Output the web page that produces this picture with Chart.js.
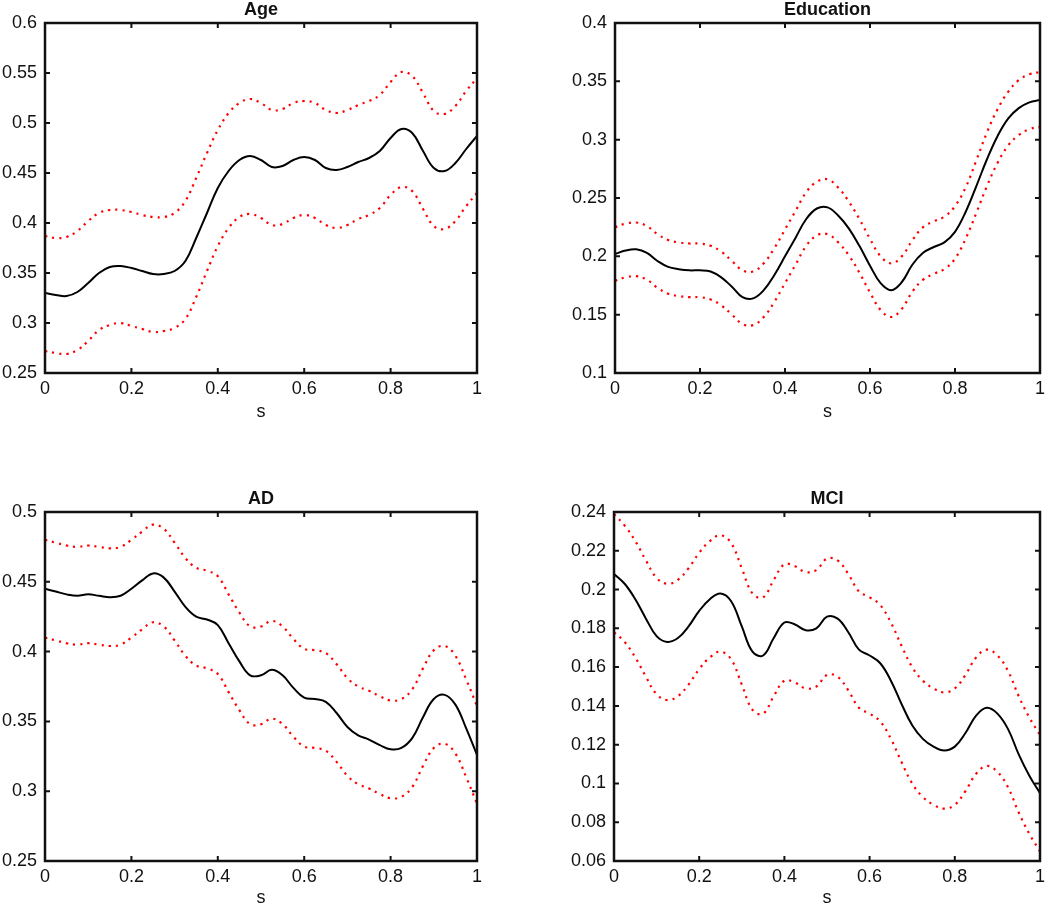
<!DOCTYPE html>
<html>
<head>
<meta charset="utf-8">
<script src="https://cdn.jsdelivr.net/npm/chart.js@4"></script>
<style>
  html, body { margin: 0; padding: 0; background: #fff; }
  body { width: 1050px; height: 904px; position: relative; overflow: hidden; }
  canvas { position: absolute; }
</style>
</head>
<body>
<canvas id="c1"></canvas>
<canvas id="c2"></canvas>
<canvas id="c3"></canvas>
<canvas id="c4"></canvas>
<script>
// ---- data ----
const sGrid = [0,0.025,0.05,0.075,0.1,0.125,0.15,0.175,0.2,0.225,0.25,0.275,0.3,0.325,0.35,0.375,0.4,0.425,0.45,0.475,0.5,0.525,0.55,0.575,0.6,0.625,0.65,0.675,0.7,0.725,0.75,0.775,0.8,0.825,0.85,0.875,0.9,0.925,0.95,0.975,1];
const xTicks = [0, 0.2, 0.4, 0.6, 0.8, 1];
const titles = ['Age', 'Education', 'AD', 'MCI'];

const ageMean  = [0.330,0.328,0.327,0.331,0.340,0.350,0.356,0.357,0.355,0.352,0.349,0.349,0.352,0.362,0.385,0.410,0.435,0.452,0.463,0.467,0.463,0.456,0.457,0.463,0.466,0.463,0.455,0.453,0.456,0.461,0.465,0.472,0.485,0.494,0.490,0.472,0.455,0.452,0.460,0.474,0.487];
const ageUpper = [0.387,0.385,0.386,0.392,0.402,0.410,0.413,0.413,0.411,0.408,0.406,0.406,0.410,0.422,0.445,0.470,0.493,0.510,0.520,0.524,0.520,0.513,0.514,0.520,0.522,0.520,0.513,0.510,0.513,0.518,0.522,0.528,0.541,0.551,0.547,0.530,0.512,0.509,0.517,0.532,0.545];
const ageLower = [0.272,0.270,0.269,0.273,0.282,0.293,0.298,0.300,0.297,0.294,0.291,0.292,0.295,0.304,0.326,0.352,0.377,0.395,0.406,0.409,0.405,0.398,0.399,0.405,0.408,0.405,0.398,0.395,0.398,0.404,0.408,0.415,0.428,0.436,0.432,0.414,0.397,0.394,0.402,0.417,0.430];

const eduMean  = [0.202,0.205,0.206,0.203,0.196,0.191,0.189,0.188,0.188,0.187,0.182,0.174,0.165,0.164,0.171,0.184,0.200,0.216,0.232,0.241,0.242,0.235,0.224,0.209,0.192,0.177,0.171,0.178,0.193,0.203,0.208,0.212,0.221,0.238,0.260,0.283,0.303,0.318,0.327,0.332,0.334];
const eduUpper = [0.225,0.228,0.229,0.226,0.219,0.214,0.212,0.211,0.211,0.209,0.204,0.196,0.188,0.187,0.194,0.207,0.223,0.239,0.255,0.264,0.266,0.259,0.247,0.232,0.215,0.200,0.194,0.200,0.214,0.225,0.230,0.234,0.243,0.259,0.282,0.306,0.326,0.341,0.351,0.356,0.358];
const eduLower = [0.179,0.182,0.183,0.180,0.173,0.168,0.166,0.165,0.165,0.163,0.158,0.150,0.142,0.141,0.148,0.161,0.177,0.193,0.209,0.218,0.219,0.212,0.201,0.186,0.169,0.154,0.148,0.155,0.170,0.180,0.185,0.189,0.198,0.215,0.237,0.260,0.280,0.295,0.304,0.309,0.311];

const adMean  = [0.445,0.443,0.441,0.440,0.441,0.440,0.439,0.440,0.445,0.451,0.456,0.453,0.443,0.432,0.425,0.423,0.419,0.406,0.393,0.383,0.383,0.387,0.383,0.374,0.367,0.366,0.364,0.356,0.346,0.340,0.337,0.333,0.330,0.331,0.338,0.353,0.366,0.369,0.362,0.345,0.326];
const adUpper = [0.480,0.478,0.476,0.475,0.476,0.475,0.474,0.475,0.480,0.486,0.491,0.488,0.478,0.467,0.460,0.458,0.454,0.441,0.428,0.418,0.418,0.422,0.418,0.409,0.402,0.401,0.399,0.391,0.381,0.375,0.372,0.368,0.365,0.366,0.373,0.388,0.401,0.404,0.397,0.380,0.361];
const adLower = [0.410,0.408,0.406,0.405,0.406,0.405,0.404,0.405,0.410,0.416,0.421,0.418,0.408,0.397,0.390,0.388,0.384,0.371,0.358,0.348,0.348,0.352,0.348,0.339,0.332,0.331,0.329,0.321,0.311,0.305,0.302,0.298,0.295,0.296,0.303,0.318,0.331,0.334,0.327,0.310,0.291];

const mciMean  = [0.208,0.203,0.195,0.185,0.176,0.173,0.175,0.181,0.189,0.195,0.198,0.194,0.181,0.168,0.166,0.175,0.183,0.182,0.179,0.180,0.186,0.185,0.178,0.169,0.166,0.162,0.153,0.141,0.130,0.123,0.119,0.117,0.119,0.126,0.135,0.139,0.136,0.128,0.115,0.104,0.095];
const mciUpper = [0.239,0.233,0.225,0.215,0.206,0.203,0.205,0.211,0.219,0.225,0.228,0.224,0.211,0.198,0.196,0.205,0.213,0.212,0.209,0.210,0.216,0.215,0.208,0.199,0.196,0.192,0.183,0.171,0.160,0.153,0.149,0.147,0.149,0.156,0.165,0.169,0.166,0.158,0.145,0.134,0.125];
const mciLower = [0.178,0.173,0.165,0.155,0.146,0.143,0.145,0.151,0.159,0.165,0.168,0.164,0.151,0.138,0.136,0.145,0.153,0.152,0.149,0.150,0.156,0.155,0.148,0.139,0.136,0.132,0.123,0.111,0.100,0.093,0.089,0.087,0.089,0.096,0.105,0.109,0.106,0.098,0.085,0.074,0.065];

const yTicksAge = [0.25,0.3,0.35,0.4,0.45,0.5,0.55,0.6];
const yTicksEdu = [0.1,0.15,0.2,0.25,0.3,0.35,0.4];
const yTicksAD  = [0.25,0.3,0.35,0.4,0.45,0.5];
const yTicksMCI = [0.06,0.08,0.1,0.12,0.14,0.16,0.18,0.2,0.22,0.24];

// ---- rendering ----
const FONT = '"Liberation Sans", Arial, Helvetica, sans-serif';
const FS = 18;
const fmt = v => String(parseFloat(Number(v).toFixed(4)));

function toXY(ys) { return sGrid.map((s, i) => ({ x: s, y: ys[i] })); }

const framePlugin = {
  id: 'frame',
  afterDraw(chart, args, opts) {
    const { ctx, chartArea: a, scales } = chart;
    ctx.save();
    ctx.strokeStyle = '#111';
    ctx.lineWidth = 2.5;
    ctx.strokeRect(a.left, a.top, a.right - a.left, a.bottom - a.top);
    const tl = 5;
    ctx.lineWidth = 2;
    ctx.beginPath();
    opts.xTicks.forEach(v => {
      const px = scales.x.getPixelForValue(v);
      ctx.moveTo(px, a.bottom); ctx.lineTo(px, a.bottom - tl);
      ctx.moveTo(px, a.top); ctx.lineTo(px, a.top + tl);
    });
    opts.yTicks.forEach(v => {
      const py = scales.y.getPixelForValue(v);
      ctx.moveTo(a.left, py); ctx.lineTo(a.left + tl, py);
      ctx.moveTo(a.right, py); ctx.lineTo(a.right - tl, py);
    });
    ctx.stroke();
    ctx.fillStyle = '#111';
    ctx.textAlign = 'center';
    ctx.textBaseline = 'alphabetic';
    const cx = (a.left + a.right) / 2;
    ctx.font = 'bold ' + FS + 'px ' + FONT;
    ctx.fillText(opts.title, cx, a.top - 8);
    ctx.font = FS + 'px ' + FONT;
    ctx.fillText('s', cx, Math.min(a.bottom + 44, chart.height - 1));
    ctx.restore();
  }
};

function makeChart(id, canvasRect, area, title, yTicks, mean, upper, lower) {
  const cv = document.getElementById(id);
  const [cl, ct, cw, ch] = canvasRect;
  cv.style.left = cl + 'px';
  cv.style.top = ct + 'px';
  cv.width = cw; cv.height = ch;
  cv.style.width = cw + 'px'; cv.style.height = ch + 'px';
  const L = area[0] - cl, T = area[1] - ct, R = area[2] - cl, B = area[3] - ct;
  const dotted = { borderColor: '#ff0000', borderWidth: 2.2, borderDash: [2.2, 5], pointRadius: 0, fill: false, tension: 0.4 };
  new Chart(cv, {
    type: 'line',
    data: {
      datasets: [
        Object.assign({ label: 'upper', data: toXY(upper) }, dotted),
        Object.assign({ label: 'lower', data: toXY(lower) }, dotted),
        { label: 'mean', data: toXY(mean), borderColor: '#000', borderWidth: 2, pointRadius: 0, fill: false, tension: 0.4 }
      ]
    },
    options: {
      responsive: false,
      animation: false,
      devicePixelRatio: 1,
      layout: { autoPadding: false, padding: { left: 0, top: T, right: cw - R, bottom: 0 } },
      plugins: { legend: { display: false }, title: { display: false }, tooltip: { enabled: false },
        frame: { title: title, xTicks: xTicks, yTicks: yTicks } },
      scales: {
        x: {
          type: 'linear', min: 0, max: 1,
          grid: { display: false, drawTicks: false }, border: { display: false },
          afterBuildTicks: s => { s.ticks = xTicks.map(v => ({ value: v })); },
          afterFit: s => { s.height = ch - B; },
          ticks: { padding: 5, maxRotation: 0, autoSkip: false, color: '#111', font: { family: FONT, size: FS }, callback: fmt }
        },
        y: {
          type: 'linear', min: yTicks[0], max: yTicks[yTicks.length - 1],
          grid: { display: false, drawTicks: false }, border: { display: false },
          afterBuildTicks: s => { s.ticks = yTicks.map(v => ({ value: v })); },
          afterFit: s => { s.width = L; },
          ticks: { padding: 8, autoSkip: false, color: '#111', font: { family: FONT, size: FS }, callback: fmt }
        }
      }
    },
    plugins: [framePlugin]
  });
}

makeChart('c1', [0, 0, 525, 452],   [45, 23, 477, 373],   titles[0], yTicksAge, ageMean, ageUpper, ageLower);
makeChart('c2', [525, 0, 525, 452], [615, 23, 1047, 373], titles[1], yTicksEdu, eduMean, eduUpper, eduLower);
makeChart('c3', [0, 452, 525, 452], [45, 512, 477, 861],  titles[2], yTicksAD, adMean, adUpper, adLower);
makeChart('c4', [525, 452, 525, 452], [614, 512, 1047, 861], titles[3], yTicksMCI, mciMean, mciUpper, mciLower);
</script>
</body>
</html>
